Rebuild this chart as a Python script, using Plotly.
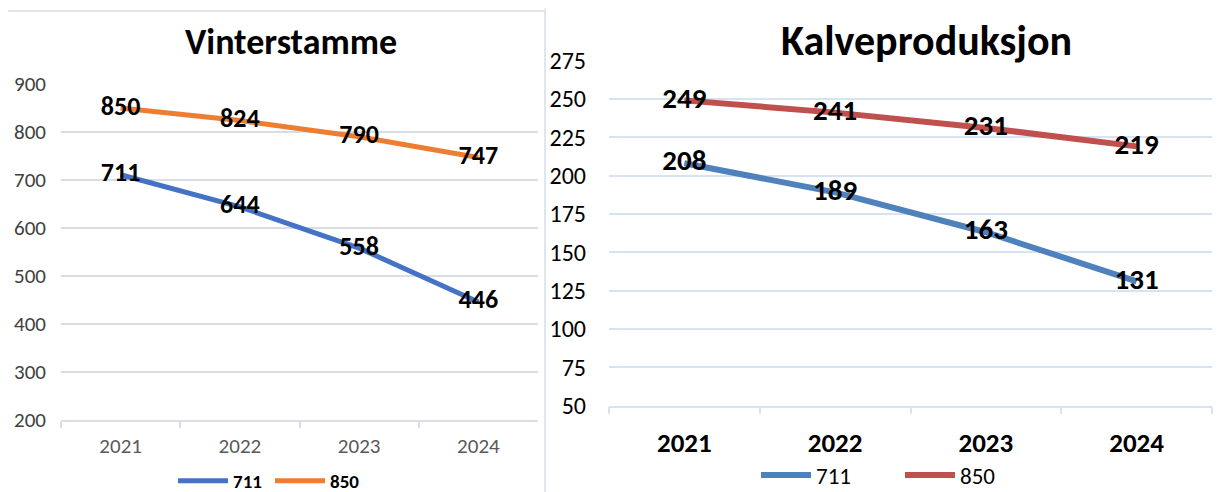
import plotly.graph_objects as go

W, H = 1221, 492
OFF = 8  # page body margin

years = ["2021", "2022", "2023", "2024"]
series_names = ["711", "850"]

vinter_711 = [711, 644, 558, 446]
vinter_850 = [850, 824, 790, 747]
kalve_711 = [208, 189, 163, 131]
kalve_850 = [249, 241, 231, 219]

left_ticks = [200, 300, 400, 500, 600, 700, 800, 900]
right_ticks = [50, 75, 100, 125, 150, 175, 200, 225, 250, 275]

FONT = "Carlito, Lato, 'Open Sans', sans-serif"


def px(x):
    return (x - OFF) / W


def py(y):
    return 1 - (y - OFF) / H


fig = go.Figure()

# Left chart
fig.add_trace(go.Scatter(
    x=years, y=vinter_711, name=series_names[0], mode="lines+text",
    text=[str(v) for v in vinter_711], textposition="middle center",
    textfont=dict(family=FONT, size=26, color="#000000", weight="bold"),
    line=dict(color="#4472C4", width=5),
    xaxis="x", yaxis="y", legend="legend", cliponaxis=False,
))
fig.add_trace(go.Scatter(
    x=years, y=vinter_850, name=series_names[1], mode="lines+text",
    text=[str(v) for v in vinter_850], textposition="middle center",
    textfont=dict(family=FONT, size=26, color="#000000", weight="bold"),
    line=dict(color="#ED7D31", width=5),
    xaxis="x", yaxis="y", legend="legend", cliponaxis=False,
))

# Right chart
fig.add_trace(go.Scatter(
    x=years, y=kalve_711, name=series_names[0], mode="lines+text",
    text=[str(v) for v in kalve_711], textposition="middle center",
    textfont=dict(family=FONT, size=29, color="#000000", weight="bold"),
    line=dict(color="#4F81BD", width=6),
    xaxis="x2", yaxis="y2", legend="legend2", cliponaxis=False,
))
fig.add_trace(go.Scatter(
    x=years, y=kalve_850, name=series_names[1], mode="lines+text",
    text=[str(v) for v in kalve_850], textposition="middle center",
    textfont=dict(family=FONT, size=29, color="#000000", weight="bold"),
    line=dict(color="#C0504D", width=6),
    xaxis="x2", yaxis="y2", legend="legend2", cliponaxis=False,
))

grid_left = "#D9DEE6"
grid_right = "#D6E3F3"

fig.update_layout(
    width=W, height=H,
    margin=dict(l=0, r=0, t=0, b=0, autoexpand=False),
    paper_bgcolor="white", plot_bgcolor="white",
    font=dict(family=FONT),
    xaxis=dict(
        domain=[px(61), px(538)], anchor="y", automargin=False,
        type="category", range=[-0.5, 3.5],
        showgrid=False, showline=True, linecolor=grid_left, linewidth=1.5,
        ticks="outside", tickson="boundaries", ticklen=6, tickcolor=grid_left, tickwidth=1.5,
        tickfont=dict(family=FONT, size=21, color="#595959"),
        ticklabelstandoff=6, zeroline=False,
    ),
    yaxis=dict(
        domain=[py(420), py(84)], anchor="x", automargin=False,
        range=[200, 900], tickvals=left_ticks,
        showgrid=True, gridcolor=grid_left, gridwidth=1.5,
        showline=False, zeroline=False, ticks="",
        tickfont=dict(family=FONT, size=21, color="#404040"),
        ticklabelstandoff=14,
    ),
    xaxis2=dict(
        domain=[px(609), px(1212)], anchor="y2", automargin=False,
        type="category", range=[-0.5, 3.5],
        showgrid=False, showline=True, linecolor=grid_right, linewidth=1.5,
        ticks="outside", tickson="boundaries", ticklen=7, tickcolor=grid_right, tickwidth=1.5,
        tickfont=dict(family=FONT, size=27, color="#000000", weight="bold"),
        ticklabelstandoff=12, zeroline=False,
    ),
    yaxis2=dict(
        domain=[py(405.5), py(60.5)], anchor="x2", automargin=False,
        range=[50, 275], tickvals=right_ticks,
        showgrid=True, gridcolor=grid_right, gridwidth=1.5,
        showline=False, zeroline=False, ticks="",
        tickfont=dict(family=FONT, size=24, color="#000000"),
        ticklabelstandoff=22,
    ),
    legend=dict(
        orientation="h", x=px(173), xanchor="left", y=py(481), yanchor="middle",
        font=dict(family=FONT, size=19, color="#000000", weight="bold"),
        bgcolor="rgba(0,0,0,0)", itemwidth=50, entrywidth=32, entrywidthmode="pixels",
        itemclick=False, itemdoubleclick=False,
    ),
    legend2=dict(
        orientation="h", x=px(756), xanchor="left", y=py(475), yanchor="middle",
        font=dict(family=FONT, size=23, color="#000000"),
        bgcolor="rgba(0,0,0,0)", itemwidth=50, entrywidth=79, entrywidthmode="pixels",
        itemclick=False, itemdoubleclick=False,
    ),
    annotations=[
        dict(text="<b>Vinterstamme</b>", x=px(291), y=py(42), xref="paper", yref="paper",
             xanchor="center", yanchor="middle", showarrow=False,
             font=dict(family=FONT, size=36, color="#000000")),
        dict(text="<b>Kalveproduksjon</b>", x=px(927), y=py(40), xref="paper", yref="paper",
             xanchor="center", yanchor="middle", showarrow=False,
             font=dict(family=FONT, size=42, color="#000000")),
    ],
    shapes=[
        dict(type="rect", xref="paper", yref="paper",
             x0=px(7), x1=px(545), y0=py(520), y1=py(11),
             line=dict(color="#D9DEE6", width=1.5), layer="below"),
        dict(type="rect", xref="paper", yref="paper",
             x0=px(545), x1=px(1240), y0=py(520), y1=py(6),
             line=dict(color="#DCE6F2", width=1.5), layer="below"),
    ],
)

fig.write_html("out.html")
